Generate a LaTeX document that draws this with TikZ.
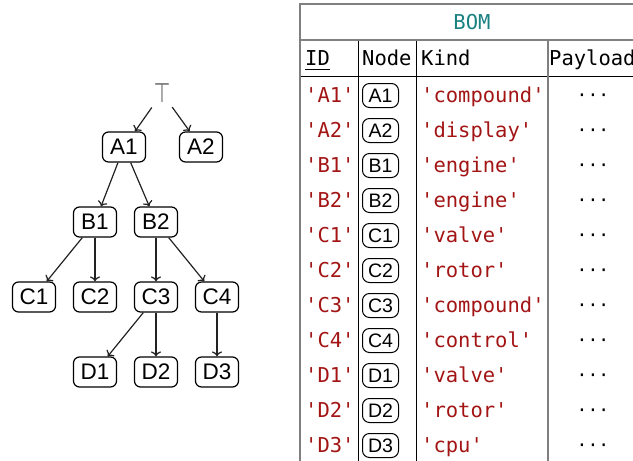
\documentclass[tikz,border=0pt]{standalone}
\usepackage{fontspec}
\usetikzlibrary{arrows.meta}
\newfontfamily\labelsans{Liberation Sans}
\newfontfamily\monofam{DejaVu Sans Mono}
\newfontfamily\symfam{DejaVu Sans}
\definecolor{litred}{HTML}{A31515}
\definecolor{titleteal}{HTML}{1A8080}
\definecolor{rulegray}{HTML}{808080}
\definecolor{topgray}{HTML}{777777}
\definecolor{edgeink}{HTML}{222222}

\tikzset{
  tnode/.style={draw=black, line width=1.2pt, rounded corners=6pt,
    minimum width=43pt, minimum height=30pt, inner sep=0pt,
    font=\labelsans\fontsize{22.5}{26}\selectfont},
  cellnode/.style={draw=black, line width=1pt, rounded corners=7pt,
    minimum width=36pt, minimum height=24pt, inner sep=0pt,
    font=\labelsans\fontsize{19.5}{23}\selectfont},
  edge/.style={draw=edgeink, line width=1.2pt, -{To[length=5pt,width=10pt]}},
  mono/.style={inner sep=0pt, font=\monofam\fontsize{20.5}{24}\selectfont},
  lit/.style={mono, text=litred},
  outerrule/.style={draw=rulegray, line width=2pt},
  innerrule/.style={draw=black, line width=1pt},
}

\begin{document}
\begin{tikzpicture}[x=1pt,y=-1pt]
\clip (0,0) rectangle (633,461);

% ---- tree ----
\node[inner sep=0pt, minimum width=20pt, minimum height=38pt, text=topgray,
      font=\symfam\fontsize{27}{30}\selectfont] (top) at (162,93) {\scalebox{0.72}[1]{⊤}};
\node[tnode] (A1) at (124,147) {A1};
\node[tnode] (A2) at (201,147) {A2};
\node[tnode] (B1) at (95,222) {B1};
\node[tnode] (B2) at (156,222) {B2};
\node[tnode] (C1) at (34,297) {C1};
\node[tnode] (C2) at (95,297) {C2};
\node[tnode] (C3) at (156,297) {C3};
\node[tnode] (C4) at (217,297) {C4};
\node[tnode] (D1) at (95,372) {D1};
\node[tnode] (D2) at (156,372) {D2};
\node[tnode] (D3) at (217,372) {D3};

\path[edge] (top) -- (A1);
\path[edge] (top) -- (A2);
\path[edge] (A1) -- (B1);
\path[edge] (A1) -- (B2);
\path[edge] (B1) -- (C1);
\path[edge] (B1) -- (C2);
\path[edge] (B2) -- (C3);
\path[edge] (B2) -- (C4);
\path[edge] (C3) -- (D1);
\path[edge] (C3) -- (D2);
\path[edge] (C4) -- (D3);

% ---- BOM table ----
\coordinate (tl) at (300,4);
\coordinate (tr) at (645,4);
\coordinate (bl) at (300,470);
\path[innerrule] (300,76) -- (645,76);
\path[innerrule] (358,40) -- (358,470);
\path[innerrule] (416,40) -- (416,470);
\path[outerrule] (548,40) -- (548,470);
\path[outerrule] (300,40) -- (645,40);
\path[outerrule] (bl) -- (tl) -- (tr);

\node[mono, anchor=base, text=titleteal] (title) at (472,29) {BOM};
\node[mono, anchor=base west] (hid) at (305,65) {ID};
\path[draw=black, line width=1pt] ([yshift=-4pt]hid.base west) -- ([yshift=-4pt]hid.base east);
\node[mono, anchor=base west] (hnode) at (362,65) {Node};
\node[mono, anchor=base west] (hkind) at (421,65) {Kind};
\node[mono, anchor=base west] (hpay) at (549,65) {Payload};

\foreach \k/\kind [count=\i from 0] in
  {A1/compound, A2/display, B1/engine, B2/engine, C1/valve, C2/rotor,
   C3/compound, C4/control, D1/valve, D2/rotor, D3/cpu} {
  \node[lit, anchor=base west] (id-\k) at (305,{102+35*\i}) {'\k'};
  \node[cellnode] (nd-\k) at (380.5,{95.5+35*\i}) {\k};
  \node[lit, anchor=base west] (kd-\k) at (421,{102+35*\i}) {'\kind'};
  \node[mono, anchor=base, font=\monofam\fontsize{18}{22}\selectfont] (pl-\k) at (593,{101+35*\i}) {···};
}
\end{tikzpicture}
\end{document}
